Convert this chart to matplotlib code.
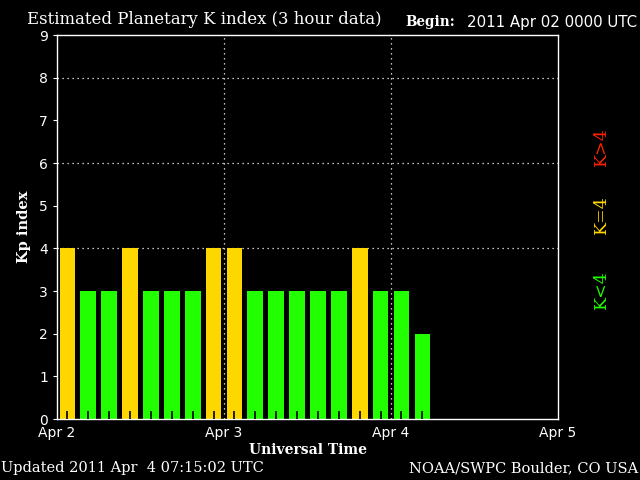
import numpy as np
import matplotlib
matplotlib.use("Agg")
import matplotlib.pyplot as plt

# Kp values, 3 hour intervals starting 2011 Apr 02 0000 UTC
kp = [4, 3, 3, 4, 3, 3, 3, 4,
      4, 3, 3, 3, 3, 3, 4, 3,
      3, 2]
day_labels = ["Apr 2", "Apr 3", "Apr 4", "Apr 5"]
ylabels = [str(i) for i in range(10)]

GREEN, YELLOW, RED = "#22ff00", "#ffd700", "#ff2200"
serif = "DejaVu Serif"

def kcolor(k):
    if k < 4:
        return GREEN
    if k == 4:
        return YELLOW
    return RED

x = (np.arange(len(kp)) + 0.5) / 8.0   # bar centres in days
colors = [kcolor(k) for k in kp]

fig = plt.figure(figsize=(6.4, 4.8), dpi=100, facecolor='black')
ax = fig.add_axes([0.089, 0.127, 0.783, 0.800], facecolor='black')

ax.bar(x, kp, width=0.75 / 8, color=colors, zorder=2)
# little black marks at the bottom of each 3 hour slot
ax.vlines(x, 0, 0.2, colors='black', lw=1.2, zorder=3)

# dotted grid
for yv in [4, 6, 8]:
    ax.axhline(yv, color='white', ls=(0, (1, 3)), lw=0.9, zorder=1)
for xv in [1, 2]:
    ax.axvline(xv, color='white', ls=(0, (1, 3)), lw=0.9, zorder=4)

ax.set_xlim(0, 3)
ax.set_ylim(0, 9)
ax.set_xticks(range(4))
ax.set_xticklabels(day_labels)
ax.set_yticks(range(10))
ax.set_yticklabels(ylabels)
ax.tick_params(colors='white', labelsize=10, length=3, width=0.8)
ax.tick_params(axis='x', length=0, pad=5)
for s in ax.spines.values():
    s.set_color('white')
    s.set_linewidth(1)

ax.set_xlabel("Universal Time", color='white', fontsize=10, family=serif,
              fontweight='bold', labelpad=2)
ax.set_ylabel("Kp index", color='white', fontsize=10.5, family=serif,
              fontweight='bold', labelpad=6)

fig.text(27 / 640, 1 - 19.5 / 480, "Estimated Planetary K index (3 hour data)",
         color='white', fontsize=11.85, family=serif, va='center')
fig.text(405 / 640, 1 - 22 / 480, "Begin:", color='white', fontsize=9.8,
         family=serif, fontweight='bold', va='center')
fig.text(467 / 640, 1 - 22 / 480, "2011 Apr 02 0000 UTC", color='white',
         fontsize=10.8, va='center')
fig.text(1 / 640, 1 - 468 / 480, "Updated 2011 Apr  4 07:15:02 UTC",
         color='white', fontsize=10.5, family=serif, va='center')
fig.text(638 / 640, 1 - 468 / 480, "NOAA/SWPC Boulder, CO USA",
         color='white', fontsize=10.5, family=serif, va='center', ha='right')

fig.text(601 / 640, 1 - 147 / 480, "K>4", color=RED, rotation=90,
         fontsize=12.5, family=serif, ha='center', va='center')
fig.text(601 / 640, 1 - 215 / 480, "K=4", color=YELLOW, rotation=90,
         fontsize=12.5, family=serif, ha='center', va='center')
fig.text(601 / 640, 1 - 290 / 480, "K<4", color=GREEN, rotation=90,
         fontsize=12.5, family=serif, ha='center', va='center')

fig.savefig("out.png", dpi=100, facecolor='black')
